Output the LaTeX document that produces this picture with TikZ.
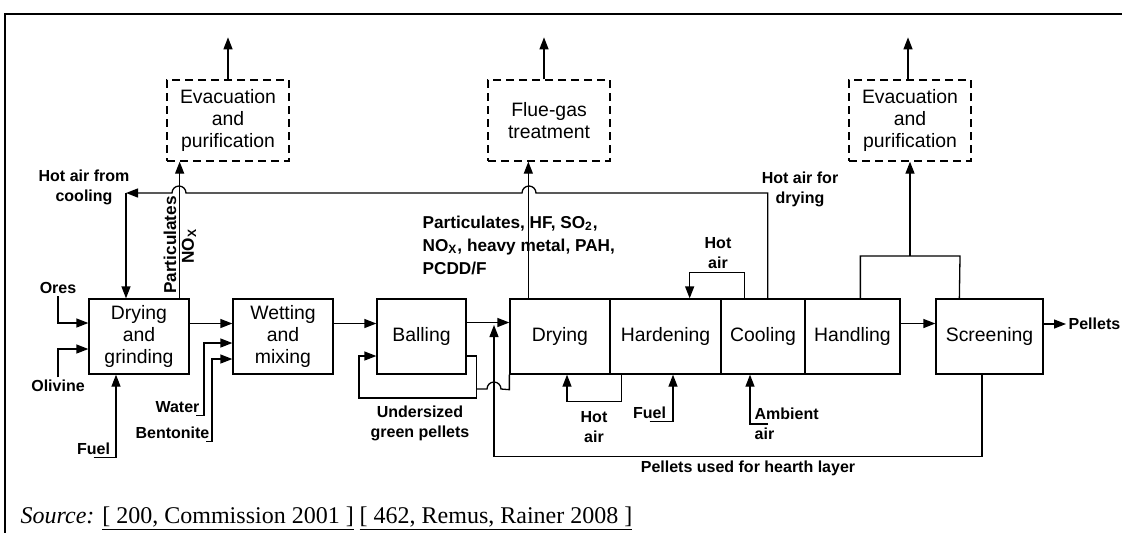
\documentclass[tikz,border=0pt]{standalone}
\usepackage{fontspec}
\setmainfont{Liberation Sans}
\newfontfamily\srcfont{Liberation Serif}
\usetikzlibrary{positioning, arrows.meta}

\newcommand{\boxfont}{\fontsize{9.7}{11}\selectfont}
\newcommand{\lblfont}{\fontsize{8}{10}\selectfont\bfseries}
\newcommand{\gasfont}{\fontsize{8.6}{11.5}\selectfont\bfseries}

\begin{document}
\begin{tikzpicture}[x=0.5pt, y=-0.5pt, line width=0.65pt,
    stage/.style={draw, minimum height=37.5pt, inner sep=0pt, align=center, font=\boxfont},
    treat/.style={draw, dash pattern=on 4pt off 2.5pt, minimum width=61pt, minimum height=40.5pt, inner sep=0pt, align=center, font=\boxfont},
    lbl/.style={inner sep=1pt, align=center, font=\lblfont},
    arr/.style={-{Triangle[length=6pt, width=4.5pt]}}]

  \useasboundingbox (0,0) rectangle (1122,532);

  % Frame
  \draw[line width=1pt] (5,545) -- (5,14) -- (1135,14);

  % Process stages
  \node[stage, minimum width=50pt] (grind) at (139,336.5) {Drying\\and\\grinding};
  \node[stage, minimum width=50pt] (wet) at (283,336.5) {Wetting\\and\\mixing};
  \node[stage, minimum width=44.5pt] (ball) at (421.5,336.5) {Balling};
  \node[stage, minimum width=50pt] (dry) at (560,336.5) {Drying};
  \node[stage, minimum width=55.5pt] (hard) at (665.5,336.5) {Hardening};
  \node[stage, minimum width=42pt] (cool) at (763,336.5) {Cooling};
  \node[stage, minimum width=47.5pt] (hand) at (852.5,336.5) {Handling};
  \node[stage, minimum width=53.5pt] (screen) at (989.5,336.5) {Screening};

  % Off-gas treatment
  \node[treat] (evacA) at (228,120.5) {Evacuation\\and\\purification};
  \node[treat] (flue) at (549,120.5) {Flue-gas\\treatment};
  \node[treat] (evacB) at (910,120.5) {Evacuation\\and\\purification};

  % Labels
  \node[lbl] (lblcool) at (84,187) {Hot air from\\cooling};
  \node[lbl] (lbldry) at (800,189) {Hot air for\\drying};
  \node[lbl] (ores) at (58,288) {Ores};
  \node[lbl] (olivine) at (58,386) {Olivine};
  \node[lbl] (fuelA) at (93.5,449) {Fuel};
  \node[lbl] (water) at (177.5,407) {Water};
  \node[lbl] (bent) at (172.5,433) {Bentonite};
  \node[lbl] (under) at (420,423) {Undersized\\green pellets};
  \node[lbl, rotate=90, font=\gasfont] (partA) at (170,245) {Particulates};
  \node[lbl, rotate=90, font=\gasfont] (noxA) at (189,246) {NO\textsubscript{X}};
  \node[lbl, anchor=west, align=left, font=\gasfont] (gases) at (420,245) {Particulates, HF, SO\textsubscript{2},\\NO\textsubscript{X}, heavy metal, PAH,\\PCDD/F};
  \node[lbl] (hotC) at (718,253) {Hot\\air};
  \node[lbl] (hotB) at (594,427) {Hot\\air};
  \node[lbl] (fuelB) at (649.5,413) {Fuel};
  \node[lbl, anchor=west, align=left] (amb) at (752,424) {Ambient\\air};
  \node[lbl] (hearth) at (748,468) {Pellets used for hearth layer};
  \node[lbl, anchor=west] (pellets) at (1066,324) {Pellets};

  % Main flow
  \draw[arr] ([yshift=6.5pt]grind.east) -- ([yshift=6.5pt]wet.west);
  \draw[arr] ([yshift=6.5pt]wet.east) -- ([yshift=6.5pt]ball.west);
  \draw[arr] ([yshift=7pt]ball.east) -- ([yshift=7pt]dry.west);
  \draw[arr] ([yshift=6.5pt]hand.east) -- ([yshift=6.5pt]screen.west);
  \draw[arr] (screen.east |- pellets) -- (pellets.west);

  % Feeds
  \draw[arr] (ores.south) |- ([yshift=6.75pt]grind.west);
  \draw[arr] (olivine.north) |- ([yshift=-6.25pt]grind.west);
  \draw[arr] (fuelA.south) -| ([xshift=-11.5pt]grind.south);
  \draw[arr] ([xshift=-3pt]water.south east) -| (204,343) -- ([yshift=-3.25pt]wet.west);
  \draw[arr] ([xshift=-3pt]bent.south east) -| (212,359) -- ([yshift=-11.25pt]wet.west);

  % Stacks
  \draw[arr] (evacA.north) -- ++(0,-42);
  \draw[arr] ([xshift=-2.5pt]flue.north) -- ++(0,-42);
  \draw[arr] ([xshift=-1pt]evacB.north) -- ++(0,-42);

  % Off-gas lines
  \coordinate (pA) at ([xshift=-5pt]grind.north east);
  \draw[arr] (pA) -- (pA |- evacA.south);
  \coordinate (pB) at ([xshift=9.5pt]dry.north west);
  \draw[arr] (pB) -- (pB |- flue.south);
  \coordinate (jB) at (910,256);
  \draw ([xshift=28pt]hand.north west) |- (960,256) -- ([xshift=12pt]screen.north west);
  \draw[arr] (jB) -- (evacB.south);

  % Hot air from cooling
  \coordinate (retA) at (126,193);
  \draw[arr] ([xshift=-19pt]cool.north east) |- (536,193) arc[start angle=0, end angle=180, radius=3.5pt]
    -- (186,193) arc[start angle=0, end angle=180, radius=3.5pt] -- (retA);
  \draw[arr] (retA) -- (retA |- grind.north);
  \draw[arr] ([xshift=-30.5pt]cool.north east) -- ++(0,-26) -| ([xshift=-16pt]hard.north east);

  % Hot air, fuel and ambient air below
  \draw[arr] ([xshift=6pt]hard.south west) -- ++(0,27) -| ([xshift=3.5pt]dry.south);
  \draw[arr] (fuelB.south) -| ([xshift=3.75pt]hard.south);
  \draw[arr] ([xshift=8pt]amb.west) -| ([xshift=-6.5pt]cool.south);

  % Undersized green pellets
  \draw[arr] ([yshift=-9.75pt]ball.east) -- ++(10,0) |- (359,398) |- ([yshift=-9.75pt]ball.west);
  \draw (dry.south west) -- ++(0,15) -- (501,389) arc[start angle=0, end angle=180, radius=3.5pt] -- (476,389);

  % Pellets for hearth layer
  \draw[arr] ([xshift=-3.75pt]screen.south) -- ++(0,82) -| (494,325);

  % Source
  \node[anchor=base west, inner sep=0pt, font=\srcfont\fontsize{12}{14}\selectfont] (source) at (20,523)
    {\textit{Source:} \underline{[ 200, Commission 2001 ]} \underline{[ 462, Remus, Rainer 2008 ]}};
\end{tikzpicture}
\end{document}
